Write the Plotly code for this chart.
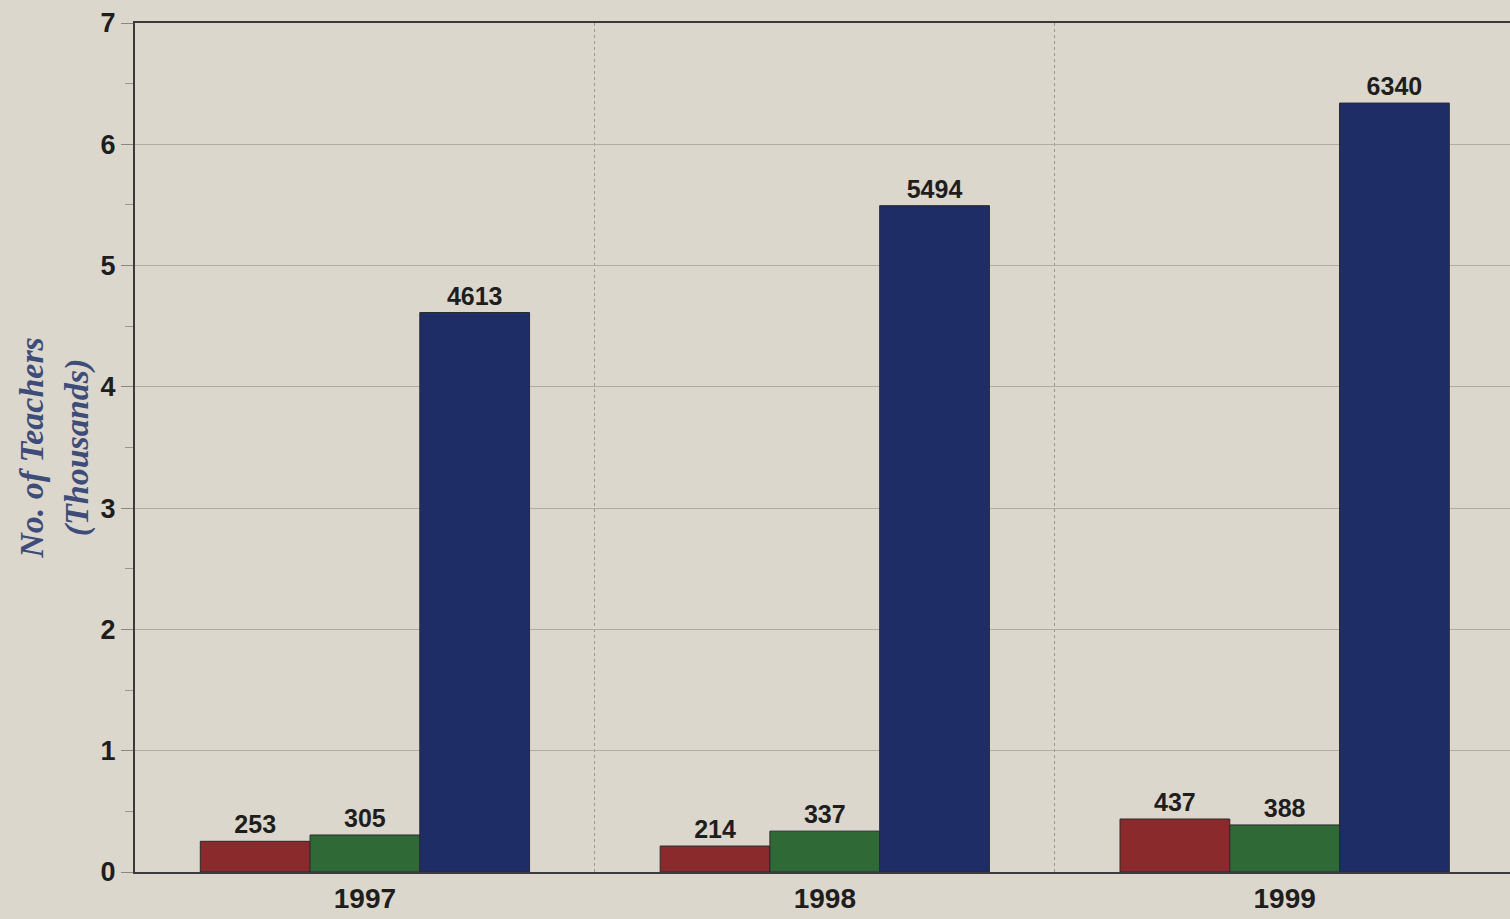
import plotly.graph_objects as go

years = ["1997", "1998", "1999"]
series_names = ["Series A", "Series B", "Series C"]
series_values = [
    [253, 214, 437],
    [305, 337, 388],
    [4613, 5494, 6340],
]
series_colors = ["#8a2a2c", "#2f6a36", "#1f2d66"]

y_ticks = [0, 1, 2, 3, 4, 5, 6, 7]

bg = "#dcd7cd"
label_font = dict(family="Liberation Sans", size=25, color="#1e1e1e", weight="bold")
tick_font = dict(family="Liberation Sans", size=28, color="#1e1e1e", weight="bold")

fig = go.Figure()
for name, vals, col in zip(series_names, series_values, series_colors):
    fig.add_trace(
        go.Bar(
            x=years,
            y=[v / 1000 for v in vals],
            name=name,
            marker=dict(color=col, line=dict(color="#2a2a2a", width=1)),
            text=[str(v) for v in vals],
            textposition="outside",
            textfont=label_font,
            cliponaxis=False,
        )
    )

fig.update_layout(
    barmode="group",
    bargap=0.284,
    bargroupgap=0,
    showlegend=False,
    paper_bgcolor=bg,
    plot_bgcolor=bg,
    width=1510,
    height=919,
    margin=dict(l=135, r=0, t=23, b=47),
)

fig.update_xaxes(
    type="category",
    range=[-0.5, 2.49],
    tickson="boundaries",
    showgrid=True,
    gridcolor="#9a968f",
    griddash="dot",
    gridwidth=1,
    showline=True,
    linecolor="#3a3a3e",
    linewidth=2,
    mirror=True,
    ticks="",
    tickfont=tick_font,
)

fig.update_yaxes(
    range=[0, 7],
    tickvals=y_ticks,
    showgrid=True,
    gridcolor="#b0aca4",
    gridwidth=1,
    zeroline=False,
    showline=True,
    linecolor="#3a3a3e",
    linewidth=2,
    ticks="outside",
    ticklen=12,
    tickcolor="#8a8780",
    minor=dict(dtick=0.5, ticks="outside", ticklen=8, tickcolor="#9a968f", showgrid=False),
    tickfont=dict(family="Liberation Sans", size=27, color="#1e1e1e", weight="bold"),
    title=dict(
        text="No. of Teachers<br>(Thousands)",
        font=dict(family="Liberation Serif", size=34, color="#3d4c78", weight="bold", style="italic"),
        standoff=2,
    ),
)

fig.write_html(
    "out.html",
    config={"displayModeBar": False},
    post_script="document.body.style.margin='0';",
)
